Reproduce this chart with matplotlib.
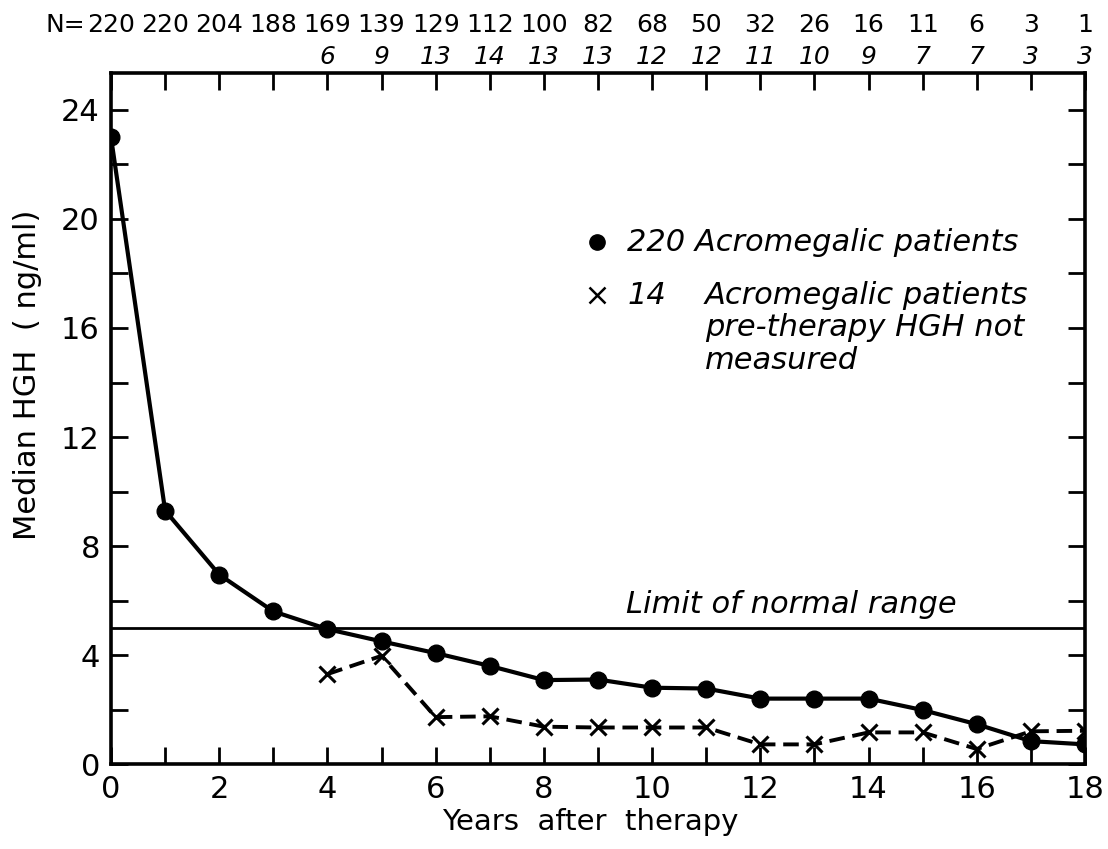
import matplotlib.pyplot as plt
import matplotlib.transforms as mtransforms

plt.rcParams['font.family'] = ['DejaVu Sans']

# data
years = list(range(19))
hgh_all = [23.0, 9.3, 6.95, 5.6, 4.95, 4.5, 4.07, 3.6, 3.08, 3.1, 2.8, 2.77,
           2.4, 2.4, 2.4, 1.98, 1.46, 0.84, 0.72]
years_x = list(range(4, 19))
hgh_x = [3.3, 3.97, 1.72, 1.75, 1.37, 1.34, 1.34, 1.34, 0.72, 0.72, 1.16,
         1.16, 0.55, 1.2, 1.22]
n_all = [220, 220, 204, 188, 169, 139, 129, 112, 100, 82, 68, 50, 32, 26,
         16, 11, 6, 3, 1]
n_x = [6, 9, 13, 14, 13, 13, 12, 12, 11, 10, 9, 7, 7, 3, 3]
normal_limit = 5

fig = plt.figure(figsize=(11.08, 8.49), dpi=100)
ax = fig.add_axes([0.1002, 0.1001, 0.879, 0.814])

ax.plot(years, hgh_all, color='black', lw=3, marker='o', ms=12, zorder=3)
ax.plot(years_x, hgh_x, color='black', lw=2.8, ls=(0, (4, 2)), marker='x',
        ms=12, mew=2.2, zorder=3)
ax.axhline(normal_limit, color='black', lw=2)
ax.text(12.57, 5.86, 'Limit of normal range', fontsize=22, style='italic',
        ha='center', va='center')

ax.set_xlim(0, 18)
ax.set_ylim(0, 25.36)
ax.set_xticks(range(0, 19))
ax.set_xticklabels([str(y) if y % 2 == 0 else '' for y in years])
ax.set_yticks(range(0, 25, 2))
ax.set_yticklabels([str(v) if v % 4 == 0 else '' for v in range(0, 25, 2)])
ax.tick_params(direction='in', length=12, width=2, labelsize=22,
               top=True, right=True, pad=8)
for sp in ax.spines.values():
    sp.set_linewidth(2.6)

ax.set_xlabel('Years  after  therapy', fontsize=21, va='center')
ax.xaxis.set_label_coords(0.492, -0.084)
ax.set_ylabel('Median HGH  ( ng/ml)', fontsize=22, va='center')
ax.yaxis.set_label_coords(-0.086, 0.563)

# patient counts above the plot
trans = mtransforms.blended_transform_factory(ax.transData, fig.transFigure)
for yr, n in zip(years, n_all):
    ax.text(yr, 0.9706, str(n), transform=trans, fontsize=18, ha='center',
            va='center', clip_on=False)
ax.text(-0.47, 0.9706, 'N=', transform=trans, fontsize=18, ha='right',
        va='center', clip_on=False)
for yr, n in zip(years_x, n_x):
    ax.text(yr, 0.933, str(n), transform=trans, fontsize=18, ha='center',
            va='center', style='italic', clip_on=False)

# legend written as text
ax.plot([8.98], [19.15], 'o', color='black', ms=11)
ax.text(9.54, 19.15, '220 Acromegalic patients', fontsize=22,
        style='italic', va='center')
ax.plot([8.98], [17.2], 'x', color='black', ms=11, mew=1.8)
ax.text(9.54, 17.2, '14', fontsize=22, style='italic', va='center')
legend_lines = ['Acromegalic patients', 'pre-therapy HGH not', 'measured']
for i, line in enumerate(legend_lines):
    ax.text(10.98, 17.2 - 1.2 * i, line, fontsize=22, style='italic',
            va='center')

fig.savefig('out.png', dpi=100)
